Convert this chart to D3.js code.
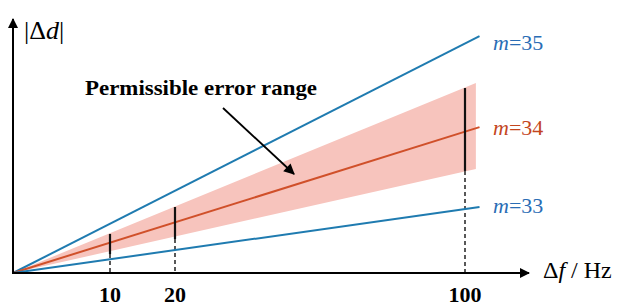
<!DOCTYPE html>
<html>
<head>
<meta charset="utf-8">
<script src="https://cdn.jsdelivr.net/npm/d3@7"></script>
</head>
<body style="margin:0">
<div id="chart"></div>
<script>
// schematic data (arbitrary |Δd| units, Δf in Hz)
const xTicks = [10, 20, 100];
const lineNames = ["m=35", "m=34", "m=33"];
const lineEndF = [104, 104, 104];
const lineEndD = [94, 57.9, 26.2];
const bandEndF = 103;
const bandUpper = 75.4;
const bandLower = 41.3;
const barF = [10, 20, 100];
const barLo = [7.5, 13.5, 40.5];
const barHi = [15.5, 26.2, 73.4];

const width = 617, height = 306;
const x0 = 13, y0 = 273;
const serif = "Liberation Serif";

// the x axis is drawn schematically (not to scale), so a piecewise scale
const x = d3.scaleLinear().domain([0, 10, 20, 100]).range([x0, 110, 175, 465]);
const y = d3.scaleLinear().domain([0, 100]).range([y0, y0 - 252]);

const svg = d3.select("#chart").append("svg")
  .attr("width", width).attr("height", height);

const defs = svg.append("defs");
defs.append("marker")
  .attr("id", "ax").attr("viewBox", "0 0 10 10")
  .attr("refX", 9).attr("refY", 5)
  .attr("markerWidth", 5).attr("markerHeight", 5)
  .attr("markerUnits", "strokeWidth")
  .attr("orient", "auto")
  .append("path").attr("d", "M0,0 L10,5 L0,10 Z").attr("fill", "#000");
defs.append("marker")
  .attr("id", "pt").attr("viewBox", "0 0 10 10")
  .attr("refX", 9).attr("refY", 5)
  .attr("markerWidth", 7).attr("markerHeight", 6)
  .attr("markerUnits", "strokeWidth")
  .attr("orient", "auto")
  .append("path").attr("d", "M0,0 L10,5 L0,10 Z").attr("fill", "#000");

// permissible band
svg.append("path")
  .attr("d", d3.line()([[x(0), y(0)], [x(bandEndF), y(bandUpper)], [x(bandEndF), y(bandLower)]]) + "Z")
  .attr("fill", "#f7c4bd");

// dashed guides
svg.selectAll(".guide").data(barF).join("line")
  .attr("x1", d => x(d)).attr("x2", d => x(d))
  .attr("y1", (d, i) => y(barLo[i])).attr("y2", y0)
  .attr("stroke", "#222").attr("stroke-width", 1.5)
  .attr("stroke-dasharray", "4,3");

// lines
const colors = ["#1f7bb0", "#d0502a", "#1f7bb0"];
lineNames.forEach((n, i) => {
  svg.append("path")
    .attr("d", d3.line().x(d => x(d[0])).y(d => y(d[1]))([[0, 0], [lineEndF[i], lineEndD[i]]]))
    .attr("stroke", colors[i]).attr("stroke-width", 2).attr("fill", "none");
});

// error bars
svg.selectAll(".bar").data(barF).join("line")
  .attr("x1", d => x(d)).attr("x2", d => x(d))
  .attr("y1", (d, i) => y(barLo[i])).attr("y2", (d, i) => y(barHi[i]))
  .attr("stroke", "#111").attr("stroke-width", 2.2);

// axes
svg.append("line").attr("x1", x0).attr("y1", y0 + 1).attr("x2", x0).attr("y2", 19)
  .attr("stroke", "#000").attr("stroke-width", 2).attr("marker-end", "url(#ax)");
svg.append("line").attr("x1", x0 - 1).attr("y1", y0).attr("x2", 529).attr("y2", y0)
  .attr("stroke", "#000").attr("stroke-width", 2).attr("marker-end", "url(#ax)");

// tick labels
svg.selectAll(".tick").data(xTicks).join("text")
  .attr("x", d => x(d)).attr("y", 302)
  .attr("text-anchor", "middle")
  .attr("font-family", serif)
  .attr("font-size", 22).attr("font-weight", "bold")
  .text(d => d);

// axis titles
const yt = svg.append("text").attr("x", 24).attr("y", 39)
  .attr("font-family", serif).attr("font-size", 26);
yt.append("tspan").text("|Δ");
yt.append("tspan").attr("font-style", "italic").text("d");
yt.append("tspan").text("|");

const xt = svg.append("text").attr("x", 543).attr("y", 278)
  .attr("font-family", serif).attr("font-size", 24);
xt.append("tspan").text("Δ");
xt.append("tspan").attr("font-style", "italic").text("f");
xt.append("tspan").text(" / Hz");

// line labels
const labelY = [50, 135, 213];
const labelColors = ["#2a6db5", "#c4461e", "#2a6db5"];
lineNames.forEach((n, i) => {
  const t = svg.append("text").attr("x", 493).attr("y", labelY[i])
    .attr("font-family", serif).attr("font-size", 22)
    .attr("fill", labelColors[i]);
  t.append("tspan").attr("font-style", "italic").text("m");
  t.append("tspan").text(n.slice(1));
});

// annotation
svg.append("text").attr("x", 85).attr("y", 95)
  .attr("font-family", serif).attr("font-size", 21).attr("font-weight", "bold")
  .attr("textLength", 232).attr("lengthAdjust", "spacingAndGlyphs")
  .text("Permissible error range");
svg.append("line").attr("x1", 223).attr("y1", 108).attr("x2", 294).attr("y2", 174)
  .attr("stroke", "#000").attr("stroke-width", 1.8).attr("marker-end", "url(#pt)");
</script>
</body>
</html>
